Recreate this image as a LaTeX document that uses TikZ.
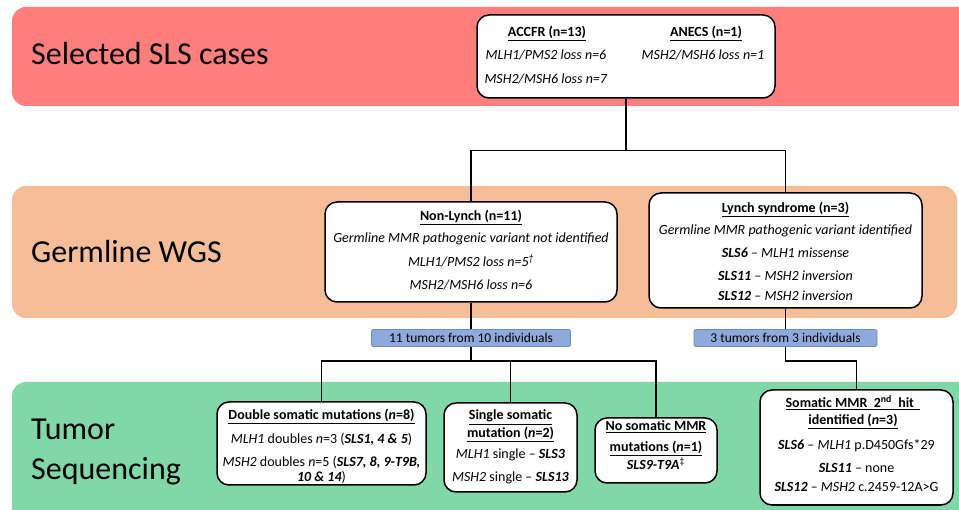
\documentclass[tikz,border=0pt]{standalone}
\usepackage{fontspec}
\setmainfont{Carlito}
\definecolor{bandred}{HTML}{FF7F7F}
\definecolor{bandpeach}{HTML}{F5BE98}
\definecolor{bandgreen}{HTML}{80D7A8}
\definecolor{labfill}{HTML}{8EA9DB}
\definecolor{labdraw}{HTML}{6A8CC7}
\begin{document}
\begin{tikzpicture}[x=1pt,y=-1pt,
  box/.style={draw=black, line width=1.5pt, rounded corners=12pt, fill=white, inner sep=0pt},
  txt/.style={inner sep=0pt, anchor=base, font=\fontsize{14}{16}\selectfont},
  conn/.style={line width=1.5pt},
  bandlbl/.style={inner sep=0pt, anchor=base west, font=\fontsize{32}{40}\selectfont},
  labbox/.style={draw=labdraw, fill=labfill, line width=0.8pt, rounded corners=2pt, inner sep=0pt, minimum height=17pt, font=\fontsize{13.5}{15}\selectfont}]
\clip (0,0) rectangle (959,510);
\fill[white] (0,0) rectangle (959,510);
% bands
\fill[bandred, rounded corners=14pt] (12,7) rectangle (990,106);
\fill[bandpeach, rounded corners=14pt] (12,186) rectangle (957,318);
\fill[bandgreen, rounded corners=14pt] (12,382) rectangle (990,540);
\node[bandlbl] (l1) at (31,65) {Selected SLS cases};
\node[bandlbl] (l2) at (31,263) {Germline WGS};
\node[bandlbl] (l3a) at (31,440) {Tumor};
\node[bandlbl] (l3b) at (31,480) {Sequencing};
% top box
\node[box, minimum width=298pt, minimum height=83pt] (top) at (626,56.5) {};
\node[txt] (top1) at (547,37) {\textbf{\underline{ACCFR (n=13)}}};
\node[txt] (top2) at (706,37) {\textbf{\underline{ANECS (n=1)}}};
\node[txt] (top3) at (546,60) {\textit{MLH1/PMS2 loss n=6}};
\node[txt] (top4) at (546,84) {\textit{MSH2/MSH6 loss n=7}};
\node[txt] (top5) at (703,60) {\textit{MSH2/MSH6 loss n=1}};
% non-lynch
\node[box, minimum width=292pt, minimum height=100pt] (nl) at (471,252) {};
\node[txt] (nl1) at (471,221) {\textbf{\underline{Non-Lynch (n=11)}}};
\node[txt] (nl2) at (471,243) {\textit{Germline MMR pathogenic variant not identified}};
\node[txt] (nl3) at (471,267) {\textit{MLH1/PMS2 loss n=5\textsuperscript{†}}};
\node[txt] (nl4) at (471,290) {\textit{MSH2/MSH6 loss n=6}};
% lynch
\node[box, minimum width=273pt, minimum height=115pt] (ly) at (785.5,250.5) {};
\node[txt] (ly1) at (785.5,213) {\textbf{\underline{Lynch syndrome (n=3)}}};
\node[txt] (ly2) at (785.5,235) {\textit{Germline MMR pathogenic variant identified}};
\node[txt] (ly3) at (785.5,258) {\textbf{\textit{SLS6}} \textit{– MLH1 missense}};
\node[txt] (ly4) at (785.5,281) {\textbf{\textit{SLS11}} \textit{– MSH2 inversion}};
\node[txt] (ly5) at (785.5,301) {\textbf{\textit{SLS12}} \textit{– MSH2 inversion}};
% label boxes
\node[labbox, minimum width=199pt] (lab1) at (471,338) {11 tumors from 10 individuals};
\node[labbox, minimum width=183pt] (lab2) at (785.5,338) {3 tumors from 3 individuals};
% bottom boxes
\node[box, minimum width=209pt, minimum height=83pt] (dbl) at (321.5,443.5) {};
\node[txt] (d1) at (321.5,420) {\textbf{\underline{Double somatic mutations (\textit{n}=8)}}};
\node[txt] (d2) at (321.5,444) {\textit{MLH1} doubles \textit{n}=3 (\textbf{\textit{SLS1, 4 \& 5}})};
\node[txt] (d3) at (321.5,467) {\textit{MSH2} doubles \textit{n}=5 (\textbf{\textit{SLS7, 8, 9-T9B,}}};
\node[txt] (d4) at (321.5,482) {\textbf{\textit{10 \& 14}})};
\node[box, minimum width=133pt, minimum height=89pt] (sgl) at (510.5,447.5) {};
\node[txt] (s1) at (510.5,420) {\textbf{\underline{Single somatic}}};
\node[txt] (s2t) at (510.5,438) {\textbf{\underline{mutation (\textit{n}=2)}}};
\node[txt] (s3) at (510.5,459) {\textit{MLH1} single – \textbf{\textit{SLS3}}};
\node[txt] (s4) at (510.5,482) {\textit{MSH2} single – \textbf{\textit{SLS13}}};
\node[box, minimum width=122pt, minimum height=65pt] (nos) at (656,450.5) {};
\node[txt] (n1) at (656,431) {\textbf{\underline{No somatic MMR}}};
\node[txt] (n2) at (656,452) {\textbf{\underline{mutations (\textit{n}=1)}}};
\node[txt] (n3) at (656,470) {\textbf{\textit{SLS9-T9A}}\textsuperscript{‡}};
\node[box, minimum width=193pt, minimum height=115pt] (som) at (856.5,447.5) {};
\node[txt] (m1) at (853,408) {\textbf{\underline{Somatic MMR\ \ 2\textsuperscript{nd}\ \ hit\ \ }}};
\node[txt] (m2) at (853,425) {\textbf{\underline{identified (\textit{n}=3)}}};
\node[txt] (m3) at (856.5,450) {\textbf{\textit{SLS6}} – \textit{MLH1} p.D450Gfs*29};
\node[txt] (m4) at (856.5,472) {\textbf{\textit{SLS11}} – none};
\node[txt] (m5) at (856.5,492) {\textbf{\textit{SLS12}} – \textit{MSH2} c.2459-12A>G};
% connectors
\draw[conn] (top.south) -- ++(0,52) coordinate (j1);
\draw[conn] (nl.north) |- (j1) -| (ly.north);
\draw[conn] (nl.south) -- (lab1.north);
\draw[conn] (lab1.south) -- ++(0,14) coordinate (j2);
\draw[conn] (dbl.north) |- (j2) -| (nos.north);
\draw[conn] (sgl.north) -- (sgl.north |- j2);
\draw[conn] (ly.south) -- (lab2.north);
\draw[conn] (lab2.south) -- ++(0,14) -| (som.north);
\end{tikzpicture}
\end{document}
